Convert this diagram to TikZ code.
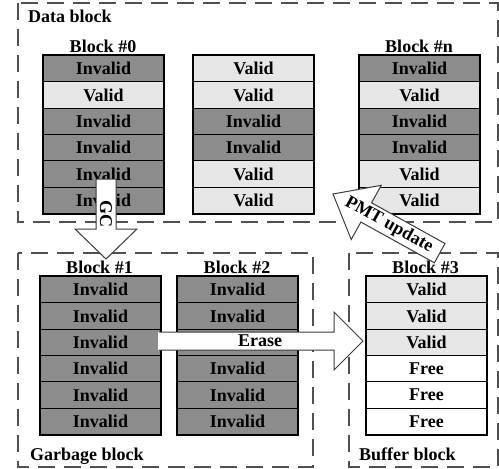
\documentclass[tikz,border=0pt]{standalone}
\usepackage{fontspec}
\setmainfont{Liberation Serif}
\definecolor{invfill}{RGB}{140,140,140}
\definecolor{valfill}{RGB}{230,230,230}
\definecolor{dashcol}{RGB}{80,80,80}
\definecolor{arrowcol}{RGB}{60,60,60}
\tikzset{
  cell/.style={draw=black, line width=1pt, minimum width=120pt, minimum height=26.33pt,
    inner sep=0pt, anchor=north west},
  cI/.style={cell, fill=invfill, node contents={Invalid}},
  cX/.style={cell, fill=invfill, node contents={}},
  cV/.style={cell, fill=valfill, node contents={Valid}},
  cF/.style={cell, fill=white, node contents={Free}},
  dashbox/.style={draw=dashcol, line width=2pt, dash pattern=on 17pt off 9pt},
  blockarrow/.style={draw=arrowcol, line width=1pt, line join=miter},
  title/.style={anchor=base, inner sep=0pt},
  boxlabel/.style={anchor=base west, inner sep=0pt}
}
% a column of six pages: name, left x, top y, list of page kinds
\newcommand\pagestack[4]{%
  \foreach \t [count=\i from 0] in {#4} {\node[c\t, name=#1-\i, at={(#2,{#3+\i*26.33})}];}
  \draw[line width=1.6pt] (#1-0.north west) rectangle (#1-5.south east);
}
\begin{document}
\begin{tikzpicture}[x=1pt, y=-1pt, font=\fontsize{18}{20}\selectfont\bfseries]
\useasboundingbox (0,0) rectangle (499,469);

% dashed regions
\draw[dashbox] (18,3) rectangle (498,222);
\draw[dashbox] (18,253) rectangle (313,467);
\draw[dashbox] (349,253) rectangle (498,467);

\node[boxlabel] (datalbl) at (28,22) {Data block};
\node[boxlabel] (garblbl) at (30,460) {Garbage block};
\node[boxlabel] (buflbl) at (359,460) {Buffer block};

% data blocks
\node[title] (t0) at (103,52) {Block \#0};
\pagestack{b0}{43}{55}{I,V,I,I,I,I}
\pagestack{bm}{193}{55}{V,V,I,I,V,V}
\node[title] (tn) at (419,52) {Block \#n};
\pagestack{bn}{359}{55}{I,V,I,I,V,V}

% garbage and buffer blocks
\node[title] (t1) at (99.5,273) {Block \#1};
\pagestack{b1}{40}{276}{I,I,I,I,I,I}
\node[title] (t2) at (237,273) {Block \#2};
\pagestack{b2}{177}{276}{I,I,X,I,I,I}
\node[title] (t3) at (425.5,273) {Block \#3};
\pagestack{b3}{366}{276}{V,V,V,F,F,F}

% GC arrow
\filldraw[blockarrow, fill=white] (96,179) -- (96,229) -- (75,229) -- (106,259)
  -- (137,229) -- (116,229) -- (116,179) -- cycle;
\node[rotate=-90, inner sep=0pt] (gc) at (106,214) {GC};

% Erase arrow
\fill[white] (158,332) -- (334,332) -- (334,312) -- (363,341) -- (334,370)
  -- (334,350) -- (158,350) -- cycle;
\draw[blockarrow] (159,332) -- (334,332) -- (334,312) -- (363,341) -- (334,370)
  -- (334,350) -- (159,350);
\node[inner sep=0pt] (erase) at (260,341) {Erase};

% PMT update arrow
\begin{scope}[shift={(333,194)}, rotate=-29]
  \filldraw[blockarrow, fill=white] (0pt,0pt) -- (38pt,31pt) -- (38pt,11pt)
    -- (122pt,11pt) -- (122pt,-11pt) -- (38pt,-11pt) -- (38pt,-31pt) -- cycle;
  \node[rotate=-29, inner sep=0pt] (pmt) at (64pt,0pt) {PMT update};
\end{scope}
\end{tikzpicture}
\end{document}
